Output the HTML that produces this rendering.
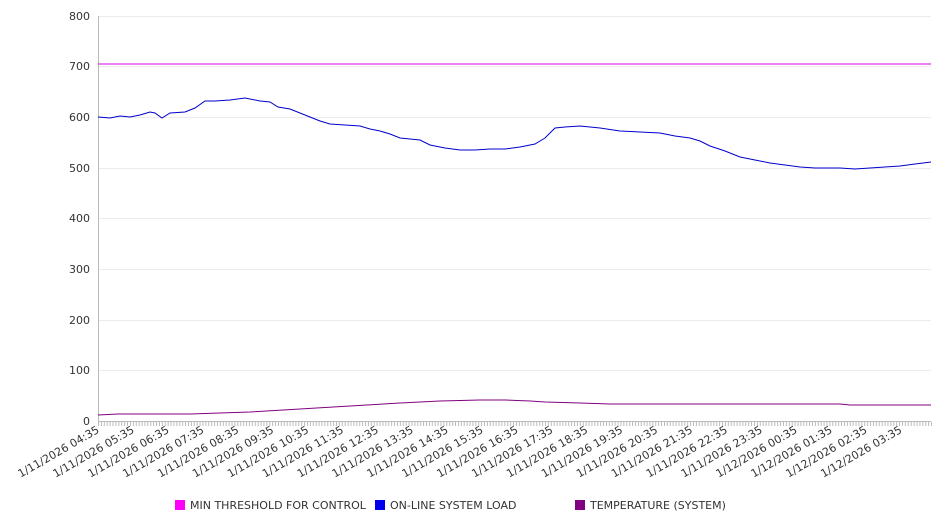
<!DOCTYPE html><html><head><style>body{margin:0;background:#fff}svg{font-family:"DejaVu Sans","Liberation Sans",sans-serif}</style></head><body>
<svg width="946" height="526" xmlns="http://www.w3.org/2000/svg">
<g stroke="#ebebeb" stroke-width="1">
<line x1="98" x2="931" y1="16.5" y2="16.5"/><line x1="98" x2="931" y1="66.5" y2="66.5"/><line x1="98" x2="931" y1="117.5" y2="117.5"/><line x1="98" x2="931" y1="168.5" y2="168.5"/><line x1="98" x2="931" y1="218.5" y2="218.5"/><line x1="98" x2="931" y1="269.5" y2="269.5"/><line x1="98" x2="931" y1="320.5" y2="320.5"/><line x1="98" x2="931" y1="370.5" y2="370.5"/>
</g>
<line x1="98.5" x2="98.5" y1="16" y2="421" stroke="#bbb"/>
<line x1="98" x2="931" y1="421.5" y2="421.5" stroke="#bbb"/>
<g fill="#333" font-size="11" text-anchor="end">
<text x="90" y="20">800</text><text x="90" y="70">700</text><text x="90" y="121">600</text><text x="90" y="172">500</text><text x="90" y="222">400</text><text x="90" y="273">300</text><text x="90" y="324">200</text><text x="90" y="374">100</text><text x="90" y="425">0</text>
</g>
<g id="ticks" stroke="#bbb"></g>
<g id="labs" fill="#333" font-size="11" text-anchor="end"></g>
<polyline fill="none" stroke="#e000e0" stroke-width="1" points="98,64 931,64"/>
<polyline fill="none" stroke="#0000cc" stroke-width="1" points="98,117 110,118 120,116 130,117 140,115 150,112 155,113 162,118 170,113 185,112 195,108 205,101 215,101 230,100 245,98 260,101 270,102 278,107 290,109 300,113 310,117 320,121 330,124 345,125 360,126 370,129 380,131 390,134 400,138 420,140 430,145 445,148 460,150 475,150 490,149 505,149 520,147 535,144 545,138 555,128 565,127 580,126 600,128 620,131 640,132 660,133 675,136 690,138 700,141 710,146 725,151 740,157 755,160 770,163 785,165 800,167 815,168 840,168 855,169 870,168 885,167 900,166 915,164 931,162"/>
<polyline fill="none" stroke="#800080" stroke-width="1" points="98,415 118,414 190,414 250,412 300,409 350,406 400,403 440,401 480,400 505,400 530,401 545,402 580,403 610,404 700,404 840,404 850,405 931,405"/>
<g font-size="11" fill="#333">
<rect x="175" y="500" width="10" height="10" fill="#ff00ff"/><text x="190" y="509">MIN THRESHOLD FOR CONTROL</text>
<rect x="375" y="500" width="10" height="10" fill="#0000ee"/><text x="390" y="509">ON-LINE SYSTEM LOAD</text>
<rect x="575" y="500" width="10" height="10" fill="#800080"/><text x="590" y="509">TEMPERATURE (SYSTEM)</text>
</g>
<script>
var t=document.getElementById('ticks'),l=document.getElementById('labs'),ns='http://www.w3.org/2000/svg';
for(var i=0;i<=287;i++){var x=98.5+i*833/287;var e=document.createElementNS(ns,'line');e.setAttribute('x1',x);e.setAttribute('x2',x);e.setAttribute('y1',422);e.setAttribute('y2',426);t.appendChild(e);}
for(var k=0;k<24;k++){var h=(4+k)%24,d=(4+k)>=24?'1/12/2026 ':'1/11/2026 ';var s=d+(h<10?'0':'')+h+':35';var x=100+k*34.9;var e=document.createElementNS(ns,'text');e.setAttribute('transform','translate('+x+',432) rotate(-30)');e.textContent=s;l.appendChild(e);}
</script>
</svg></body></html>
